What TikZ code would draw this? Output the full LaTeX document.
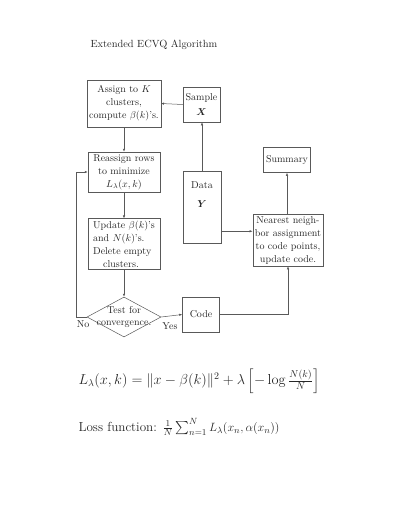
\documentclass[tikz,border=0pt]{standalone}
\usepackage{amsmath,amssymb,bm}
\usetikzlibrary{shapes.geometric,arrows.meta,calc}
\begin{document}
\begin{tikzpicture}[x=1pt,y=-1pt,
  every node/.style={font=\fontsize{10}{13}\selectfont, text=black!85},
  box/.style={draw=black!65, line width=0.5pt, inner sep=2pt, align=center},
  link/.style={draw=black!65, line width=0.5pt, -{Latex[length=3pt,width=2.4pt]}},
  big/.style={font=\fontsize{13.1}{16}\selectfont}]
\useasboundingbox (0,0) rectangle (400,517);
\node[anchor=west, font=\fontsize{10.4}{13}\selectfont] (title) at (87,45) {Extended ECVQ Algorithm};
\node[box, minimum width=72pt, minimum height=47pt] (assign) at (124,103.5) {Assign to $K$\\clusters,\\compute $\beta(k)$'s.};
\node[box, minimum width=37pt, minimum height=35pt] (sample) at (201.5,104.5) {Sample\\[2pt]$\bm{X}$};
\node[box, minimum width=72pt, minimum height=40pt] (reassign) at (124,172) {Reassign rows\\to minimize\\$L_\lambda(x,k)$};
\node[box, minimum width=72pt, minimum height=46pt, align=left] (update) at (124,244) {Update $\beta(k)$'s\\and $N(k)$'s.\\Delete empty\\\hspace*{10pt}clusters.};
\node[box, minimum width=38pt, minimum height=72pt] (data) at (202,207) {\parbox[t][66pt][t]{34pt}{\centering\vspace*{8pt}Data\\[6pt]$\bm{Y}$}};
\node[box, minimum width=47pt, minimum height=25pt] (summary) at (287,160) {Summary};
\node[box, minimum width=70pt, minimum height=52pt] (nearest) at (288,240) {Nearest neigh-\\bor assignment\\to code points,\\update code.};
\node[diamond, draw=black!65, line width=0.5pt, minimum width=74pt, minimum height=40pt, inner sep=0pt] (test) at (124,317) {\makebox[0pt]{\parbox{62pt}{\centering\fontsize{10}{12}\selectfont Test for\\convergence.}}};
\node[box, minimum width=37pt, minimum height=35pt] (code) at (201,314.5) {Code};
\node (no) at (83,324) {No};
\node (yes) at (170,326) {Yes};
\coordinate (loop) at (76,317);
\coordinate (dy) at ($(data.south east)+(0,-12)$);
\draw[link] (sample.west) -- (assign.east);
\draw[link] (data.north) -- (data.north |- sample.south);
\draw[link] (assign.south) -- (reassign.north);
\draw[link] (reassign.south) -- (update.north);
\draw[link] (update.south) -- (test.north);
\draw[link] (test.east) -- (code.west);
\draw[link] (test.west) -- (loop) |- (reassign.west);
\draw[link] (dy) -- (nearest.west |- dy);
\draw[link] (code.east) -| (nearest.south);
\draw[link] (nearest.north -| summary.south) -- (summary.south);
\node[anchor=west, font=\fontsize{13.7}{16}\selectfont] (eq) at (75,381) {$L_\lambda(x,k) = \|x-\beta(k)\|^2 + \lambda\left[-\log\frac{N(k)}{N}\right]$};
\node[anchor=west, big] (loss) at (75,427) {Loss function: $\frac{1}{N}\sum_{n=1}^{N} L_\lambda(x_n,\alpha(x_n))$};
\end{tikzpicture}
\end{document}
